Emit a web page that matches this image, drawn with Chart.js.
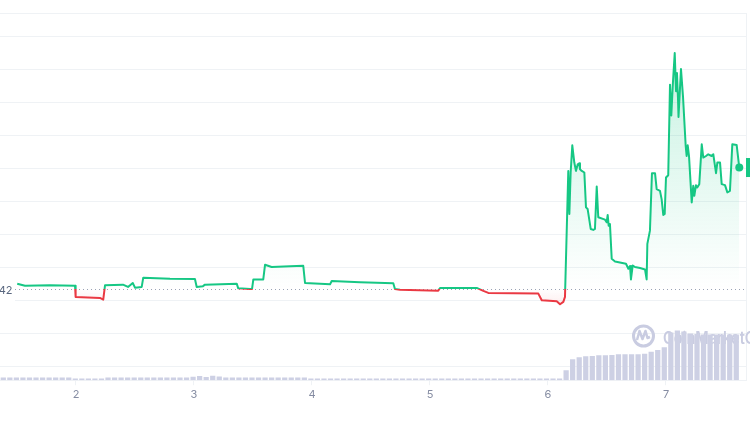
<!DOCTYPE html>
<html>
<head>
<meta charset="utf-8">
<script src="https://cdn.jsdelivr.net/npm/chart.js@4.4.1/dist/chart.umd.min.js"></script>
<style>
  html, body { margin: 0; padding: 0; background: #fff; }
  #wrap { position: relative; width: 750px; height: 425px; }
</style>
</head>
<body>
<div id="wrap"><canvas id="chart"></canvas></div>
<script>
// time = day of month (fractional), price in units of 0.0001 USD
const priceTimes = [
  1.502, 1.568, 1.780, 1.992, 1.997, 2.203, 2.231, 2.246, 2.398, 2.441,
  2.481, 2.500, 2.557, 2.570, 2.797, 3.008, 3.023, 3.076, 3.093, 3.362,
  3.375, 3.475, 3.492, 3.503, 3.587, 3.602, 3.658, 3.814, 3.926, 3.941,
  4.153, 4.167, 4.407, 4.689, 4.703, 4.746, 5.070, 5.085, 5.396, 5.452,
  5.494, 5.918, 5.947, 6.074, 6.102, 6.130, 6.144,
  6.172, 6.181, 6.192, 6.206, 6.223, 6.237, 6.252, 6.265, 6.271, 6.286,
  6.308, 6.322, 6.336, 6.362, 6.384, 6.398, 6.413, 6.426, 6.483, 6.497,
  6.506, 6.514, 6.525, 6.540, 6.568, 6.661, 6.681, 6.695, 6.703, 6.718,
  6.737, 6.780, 6.822, 6.836, 6.842, 6.864, 6.881, 6.907, 6.921, 6.949,
  6.963, 6.977, 6.989, 7.000, 7.019, 7.034, 7.045, 7.057, 7.074, 7.085,
  7.093, 7.102, 7.106, 7.127, 7.144, 7.167, 7.175, 7.184, 7.195, 7.218,
  7.231, 7.240, 7.254, 7.265, 7.282, 7.303, 7.316, 7.339, 7.358, 7.387,
  7.401, 7.424, 7.435, 7.458, 7.472, 7.500, 7.520, 7.542, 7.562, 7.599,
  7.621
];
const priceValues = [
  42.511, 42.451, 42.466, 42.445, 42.110, 42.080, 42.029, 42.460, 42.481, 42.412,
  42.532, 42.391, 42.412, 42.692, 42.662, 42.653, 42.412, 42.436, 42.481, 42.511,
  42.370, 42.352, 42.352, 42.641, 42.641, 43.084, 43.015, 43.039, 43.054, 42.532,
  42.490, 42.593, 42.557, 42.526, 42.352, 42.330, 42.300, 42.382, 42.382, 42.291,
  42.231, 42.210, 42.008, 41.978, 41.887, 41.960, 42.110,
  45.927, 44.622, 45.879, 46.702, 46.180, 45.927, 46.129, 46.159, 45.978, 45.927,
  45.879, 44.824, 44.772, 44.169, 44.139, 44.169, 45.457, 44.522, 44.450, 44.371,
  44.591, 44.269, 44.320, 43.265, 43.184, 43.114, 42.964, 43.045, 42.641, 43.063,
  43.015, 42.985, 42.942, 42.641, 43.717, 44.118, 45.858, 45.858, 45.375, 45.324,
  45.074, 44.591, 44.622, 45.728, 45.797, 48.541, 47.606, 48.490, 49.497, 48.339,
  48.894, 48.089, 47.561, 49.014, 48.188, 46.681, 46.379, 46.702, 46.379, 44.974,
  45.475, 45.173, 45.496, 45.427, 45.526, 46.732, 46.331, 46.379, 46.431, 46.379,
  46.431, 45.858, 46.180, 46.180, 45.526, 45.496, 45.276, 45.324, 46.732, 46.711,
  46.030
];
const baselinePrice = 42.36;
const baselineLabel = "$0.0042";

// volume bars, evenly spaced in time
const volumeStart = 1.384;
const volumeStep = 0.05546;
const volumeValues = [
  2.7, 2.7, 2.7, 2.7, 2.7, 2.7, 2.7, 2.7, 2.7, 2.7, 2.7,
  1.6, 1.6, 1.6, 1.6, 1.6,
  2.7, 2.7, 2.7, 2.7, 2.7, 2.7, 2.7, 2.7, 2.7, 2.7, 2.7, 2.7, 2.7,
  3.5, 4.2, 3.2, 4.5, 3.8,
  2.7, 2.7, 2.7, 2.7, 2.7, 2.7, 2.7, 2.7, 2.7, 2.7, 2.7, 2.7, 2.7,
  1.7, 1.7, 1.7, 1.7, 1.7, 1.7, 1.7, 1.7, 1.7, 1.7, 1.7, 1.7, 1.7,
  1.7, 1.7, 1.7, 1.7, 1.7, 1.7, 1.7, 1.7, 1.7, 1.7, 1.7, 1.7, 1.7,
  1.7, 1.7, 1.7, 1.7, 1.7, 1.7, 1.7, 1.7, 1.7, 1.7, 1.7, 1.7, 1.7,
  10,
  21, 23, 24, 24.3, 25, 25, 25.3, 26, 26, 26, 26, 26.5, 28.5, 30.4, 33,
  48, 50, 49, 47, 46.5, 46, 46, 46, 46, 46, 46
];

const dayTicks = [2, 3, 4, 5, 6, 7];
const gridPrices = [40, 41, 42, 43, 44, 45, 46, 47, 48, 49, 50];
const xMin = 1.356, xMax = 7.678;
const yMin = 39.587, yMax = 50.711;
const volumeMax = 369;

const GREEN = "#16c784";
const RED = "#ea3943";
const GRID = "#eff2f5";

function lineColor(chart) {
  const { ctx, chartArea, scales } = chart;
  if (!chartArea) return GREEN;
  const y0 = scales.y.getPixelForValue(baselinePrice);
  const t = Math.min(Math.max((y0 - chartArea.top) / (chartArea.bottom - chartArea.top), 0), 1);
  const g = ctx.createLinearGradient(0, chartArea.top, 0, chartArea.bottom);
  g.addColorStop(0, GREEN);
  g.addColorStop(t, GREEN);
  g.addColorStop(t, RED);
  g.addColorStop(1, RED);
  return g;
}

function fillColor(chart) {
  const { ctx, chartArea, scales } = chart;
  if (!chartArea) return "rgba(22,199,132,0.1)";
  const y0 = scales.y.getPixelForValue(baselinePrice);
  const top = scales.y.getPixelForValue(Math.max(...priceValues));
  const h = chartArea.bottom - chartArea.top;
  const t0 = (top - chartArea.top) / h;
  const t = (y0 - chartArea.top) / h;
  const g = ctx.createLinearGradient(0, chartArea.top, 0, chartArea.bottom);
  g.addColorStop(0, "rgba(22,199,132,0.26)");
  g.addColorStop(t0, "rgba(22,199,132,0.24)");
  g.addColorStop(t, "rgba(22,199,132,0.0)");
  g.addColorStop(t, "rgba(234,57,67,0.0)");
  g.addColorStop(Math.min(t + 0.06, 1), "rgba(234,57,67,0.12)");
  g.addColorStop(1, "rgba(234,57,67,0.12)");
  return g;
}

const decorations = {
  id: "decorations",
  beforeDatasetsDraw(chart) {
    const { ctx, chartArea, scales } = chart;
    const y0 = Math.round(scales.y.getPixelForValue(baselinePrice)) + 0.5;
    ctx.save();

    // watermark
    ctx.strokeStyle = "#c9cce1";
    ctx.fillStyle = "#c9cce1";
    ctx.lineWidth = 3;
    ctx.beginPath();
    ctx.arc(643.5, 336, 10, 0, Math.PI * 2);
    ctx.stroke();
    ctx.lineWidth = 2.5;
    ctx.lineJoin = "round";
    ctx.beginPath();
    ctx.moveTo(637, 340);
    ctx.lineTo(639.5, 331);
    ctx.lineTo(642.5, 339);
    ctx.lineTo(645.5, 331);
    ctx.lineTo(647.5, 338);
    ctx.lineTo(650, 337);
    ctx.stroke();
    ctx.font = "600 17px Inter";
    ctx.textBaseline = "alphabetic";
    ctx.textAlign = "left";
    ctx.fillText("CoinMarketCap", 663, 343.5, 110);

    // dotted baseline
    ctx.strokeStyle = "#9aa3b5";
    ctx.lineWidth = 1;
    ctx.setLineDash([1, 3]);
    ctx.beginPath();
    ctx.moveTo(15, y0);
    ctx.lineTo(chartArea.right, y0);
    ctx.stroke();
    ctx.setLineDash([]);

    // baseline label
    ctx.fillStyle = "#fff";
    ctx.fillRect(0, y0 - 11, 15, 24);
    ctx.fillStyle = "#58667e";
    ctx.font = "11px Inter";
    ctx.textAlign = "right";
    ctx.textBaseline = "middle";
    ctx.fillText(baselineLabel, 12.5, y0 + 1);
    ctx.restore();
  },
  afterDraw(chart) {
    const { ctx, chartArea, scales } = chart;
    const last = priceValues[priceValues.length - 1];
    const y = scales.y.getPixelForValue(last);
    ctx.save();
    ctx.fillStyle = GREEN;
    ctx.fillRect(chartArea.right, y - 9.5, 70, 19);
    ctx.fillStyle = "#fff";
    ctx.font = "11px Inter";
    ctx.textBaseline = "middle";
    ctx.fillText("$" + (last / 10000).toFixed(6), chartArea.right + 6, y);
    ctx.restore();
  }
};

Chart.defaults.font.family = "Inter";

new Chart(document.getElementById("chart"), {
  data: {
    datasets: [
      {
        type: "line",
        data: priceTimes.map((t, i) => ({ x: t, y: priceValues[i] })),
        borderColor: (c) => lineColor(c.chart),
        backgroundColor: (c) => fillColor(c.chart),
        fill: { value: baselinePrice },
        borderWidth: 2,
        borderJoinStyle: "round",
        tension: 0,
        pointRadius: (c) => (c.dataIndex === priceValues.length - 1 ? 4 : 0),
        pointBackgroundColor: GREEN,
        pointBorderColor: GREEN,
        pointBorderWidth: 0,
        yAxisID: "y",
        order: 0
      },
      {
        type: "bar",
        data: volumeValues.map((v, i) => ({ x: volumeStart + i * volumeStep, y: v })),
        backgroundColor: "#cdd0e4",
        categoryPercentage: 0.8,
        barPercentage: 1,
        yAxisID: "yv",
        order: 1
      }
    ]
  },
  options: {
    responsive: true,
    maintainAspectRatio: false,
    animation: false,
    devicePixelRatio: 1,
    layout: { autoPadding: false, padding: { top: 13, right: 4, bottom: 20.6, left: 0 } },
    plugins: { legend: { display: false }, tooltip: { enabled: false } },
    scales: {
      x: {
        type: "linear",
        offset: false,
        min: xMin,
        max: xMax,
        afterBuildTicks: (axis) => { axis.ticks = dayTicks.map((v) => ({ value: v })); },
        ticks: { color: "#858ca2", font: { size: 11 }, padding: 3, maxRotation: 0 },
        grid: { offset: false, drawOnChartArea: false, drawTicks: true, tickLength: 5, color: GRID },
        border: { display: true, color: GRID }
      },
      y: {
        type: "linear",
        position: "right",
        min: yMin,
        max: yMax,
        afterBuildTicks: (axis) => { axis.ticks = gridPrices.concat([yMax]).map((v) => ({ value: v })); },
        ticks: { display: false },
        grid: { color: GRID, drawTicks: false },
        border: { display: true, color: GRID }
      },
      yv: {
        type: "linear",
        position: "right",
        display: false,
        min: 0,
        max: volumeMax
      }
    }
  },
  plugins: [decorations]
});
</script>
</body>
</html>
